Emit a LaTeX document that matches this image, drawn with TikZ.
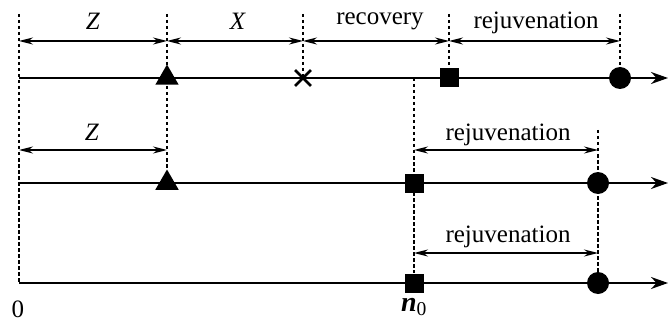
\documentclass[tikz,border=0pt]{standalone}
\usepackage{fontspec}
\setmainfont{Liberation Serif}
\usetikzlibrary{arrows.meta,shapes.geometric,shapes.misc}
\begin{document}
\begin{tikzpicture}[x=1pt,y=-1pt,
 axis/.style={line width=1.8pt,-{Stealth[length=17pt,width=12pt]}},
 guide/.style={line width=1.4pt,dash pattern=on 3.5pt off 2.5pt},
 dim/.style={line width=1.5pt,{Stealth[length=14pt,width=7pt]}-{Stealth[length=14pt,width=7pt]}},
 tri/.style={regular polygon,regular polygon sides=3,fill,inner sep=0pt,minimum size=27pt},
 sq/.style={rectangle,fill,inner sep=0pt,minimum size=19pt},
 dot/.style={circle,fill,inner sep=0pt,minimum size=22pt},
 xm/.style={cross out,draw,line width=2.8pt,inner sep=0pt,minimum size=13pt},
 lbl/.style={font=\fontsize{25}{28}\selectfont,inner sep=0pt}]
\useasboundingbox (0,0) rectangle (668,323);
% coordinates
\coordinate (s1) at (19,78);  \coordinate (e1) at (668,78);
\coordinate (s2) at (19,183); \coordinate (e2) at (668,183);
\coordinate (s3) at (19,283); \coordinate (e3) at (668,283);
\coordinate (g0) at (19,14);
\coordinate (g1) at (167,14);
\coordinate (g2) at (303,14);
\coordinate (g3) at (449,14);
\coordinate (g4) at (620,14);
\coordinate (g5) at (414,78);
\coordinate (g6) at (598,130);
% axes
\draw[axis] (s1) -- (e1);
\draw[axis] (s2) -- (e2);
\draw[axis] (s3) -- (e3);
% markers
\node[tri] (t1) at (167,78) {};
\node[xm] (x1) at (303,78) {};
\node[sq] (q1) at (449,78) {};
\node[dot] (c1) at (620,78) {};
\node[tri] (t2) at (167,183) {};
\node[sq] (q2) at (414,183) {};
\node[dot] (c2) at (598,183) {};
\node[sq] (q3) at (414,283) {};
\node[dot] (c3) at (598,283) {};
% guides
\draw[guide] (g0) -- (s3);
\draw[guide] (g1) -- (t2.north);
\draw[guide] (g2) -- (x1.center);
\draw[guide] (g3) -- (q1.north);
\draw[guide] (g4) -- (c1.north);
\draw[guide] (g5) -- (q3.north);
\draw[guide] (g6) -- (c3.north);
% dimension arrows
\coordinate (d0) at (19,41); \coordinate (d1) at (167,41);
\coordinate (d2) at (303,41); \coordinate (d3) at (449,41);
\coordinate (d4) at (620,41);
\draw[dim] (d0) -- (d1);
\draw[dim] (d1) -- (d2);
\draw[dim] (d2) -- (d3);
\draw[dim] (d3) -- (d4);
\coordinate (f0) at (19,150); \coordinate (f1) at (167,150);
\coordinate (f2) at (414,150); \coordinate (f3) at (598,150);
\draw[dim] (f0) -- (f1);
\draw[dim] (f2) -- (f3);
\coordinate (h0) at (414,253); \coordinate (h1) at (598,253);
\draw[dim] (h0) -- (h1);
% labels
\node[lbl] (lz1) at (93,21) {\textit{Z}};
\node[lbl] (lx) at (238,21) {\textit{X}};
\node[lbl] (lrec) at (380,21) {recovery};
\node[lbl] (lrej1) at (536,23) {rejuvenation};
\node[lbl] (lz2) at (92,132) {\textit{Z}};
\node[lbl] (lrej2) at (508,135) {rejuvenation};
\node[lbl] (lrej3) at (508,237) {rejuvenation};
\node[lbl] (l0) at (18,309) {0};
\node[lbl,font=\fontsize{28}{30}\selectfont] (ln0) at (414,307) {\textit{\textbf{n}}\textsubscript{0}};
\end{tikzpicture}
\end{document}
